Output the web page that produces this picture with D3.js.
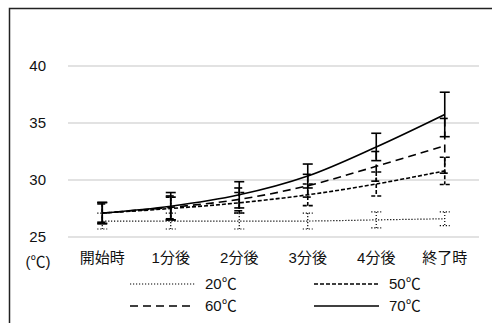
<!DOCTYPE html>
<html>
<head>
<meta charset="utf-8">
<script src="https://cdn.jsdelivr.net/npm/d3@7"></script>
<style>
  body { margin: 0; background: #fff; }
  text { font-family: "Liberation Sans", Arial, "Noto Sans CJK JP", sans-serif; fill: #111; }
</style>
</head>
<body>
<div id="chart"></div>
<script>
// chart values
const categories = ["開始時", "1分後", "2分後", "3分後", "4分後", "終了時"];
const seriesNames = ["20℃", "50℃", "60℃", "70℃"];
const mean20 = [26.4, 26.4, 26.4, 26.4, 26.5, 26.6];
const err20 = [0.7, 0.7, 0.7, 0.7, 0.7, 0.6];
const mean50 = [27.1, 27.5, 28.0, 28.7, 29.65, 30.8];
const err50 = [0.9, 1.0, 0.9, 0.95, 1.05, 1.2];
const mean60 = [27.1, 27.6, 28.3, 29.5, 31.2, 33.0];
const err60 = [0.8, 1.0, 1.0, 1.0, 1.3, 2.4];
const mean70 = [27.1, 27.7, 28.7, 30.35, 32.9, 35.75];
const err70 = [0.95, 1.2, 1.15, 1.05, 1.2, 1.95];
const yTicks = [25, 30, 35, 40];

const width = 492,
  height = 323;

const svg = d3.select("#chart").append("svg")
  .attr("width", width)
  .attr("height", height);

// outer frame (right/bottom edges fall outside the picture)
svg.append("rect")
  .attr("x", 9.5).attr("y", 8.5)
  .attr("width", 520).attr("height", 340)
  .attr("fill", "none")
  .attr("stroke", "#222")
  .attr("stroke-width", 1.5);

const x = d3.scaleBand()
  .domain(categories)
  .range([68, 479]);

const y = d3.scaleLinear()
  .domain([25, 40])
  .range([237, 66]);

// gridlines
svg.append("g")
  .selectAll("line")
  .data(yTicks)
  .join("line")
  .attr("x1", 68).attr("x2", 479)
  .attr("y1", d => y(d)).attr("y2", d => y(d))
  .attr("stroke", "#d9d9d9")
  .attr("stroke-width", 1.5);

// y axis labels
svg.append("g")
  .selectAll("text")
  .data(yTicks)
  .join("text")
  .attr("x", 46)
  .attr("y", d => y(d))
  .attr("dy", "0.36em")
  .attr("text-anchor", "end")
  .style("font-size", "15px")
  .text(d => d);

svg.append("text")
  .attr("x", 38).attr("y", 262)
  .attr("dy", "0.36em")
  .attr("text-anchor", "middle")
  .style("font-size", "15px")
  .text("(℃)");

// category labels
svg.append("g")
  .selectAll("text")
  .data(categories)
  .join("text")
  .attr("x", d => x(d) + x.bandwidth() / 2)
  .attr("y", 258)
  .attr("dy", "0.36em")
  .attr("text-anchor", "middle")
  .style("font-size", "15px")
  .text(d => d);

const series = [
  { name: seriesNames[0], mean: mean20, err: err20, dash: "1.2,1.8", w: 1.2 },
  { name: seriesNames[1], mean: mean50, err: err50, dash: "4,2", w: 1.6 },
  { name: seriesNames[2], mean: mean60, err: err60, dash: "8,5", w: 1.6 },
  { name: seriesNames[3], mean: mean70, err: err70, dash: null, w: 1.6 }
];

const cx = i => x(categories[i]) + x.bandwidth() / 2;

const line = d3.line()
  .x((d, i) => cx(i))
  .y(d => y(d))
  .curve(d3.curveCatmullRom.alpha(0.5));

const g = svg.append("g");

series.forEach(s => {
  const sg = g.append("g")
    .attr("fill", "none")
    .attr("stroke", "#000")
    .attr("stroke-width", s.w)
    .attr("stroke-dasharray", s.dash);

  sg.append("path").attr("d", line(s.mean));

  // error bars
  s.mean.forEach((m, i) => {
    const px = cx(i), top = y(m + s.err[i]), bot = y(m - s.err[i]);
    sg.append("line").attr("x1", px).attr("x2", px).attr("y1", top).attr("y2", bot);
    sg.append("line").attr("x1", px - 5).attr("x2", px + 5).attr("y1", top).attr("y2", top);
    sg.append("line").attr("x1", px - 5).attr("x2", px + 5).attr("y1", bot).attr("y2", bot);
  });
});

// legend
const legendPos = [
  { lx: 130, ly: 284 },
  { lx: 314, ly: 284 },
  { lx: 130, ly: 306 },
  { lx: 314, ly: 306 }
];

series.forEach((s, i) => {
  const p = legendPos[i];
  svg.append("line")
    .attr("x1", p.lx).attr("x2", p.lx + 65)
    .attr("y1", p.ly).attr("y2", p.ly)
    .attr("stroke", "#000")
    .attr("stroke-width", s.w)
    .attr("stroke-dasharray", s.dash);
  svg.append("text")
    .attr("x", p.lx + 75)
    .attr("y", p.ly)
    .attr("dy", "0.36em")
    .style("font-size", "15px")
    .text(s.name);
});
</script>
</body>
</html>
